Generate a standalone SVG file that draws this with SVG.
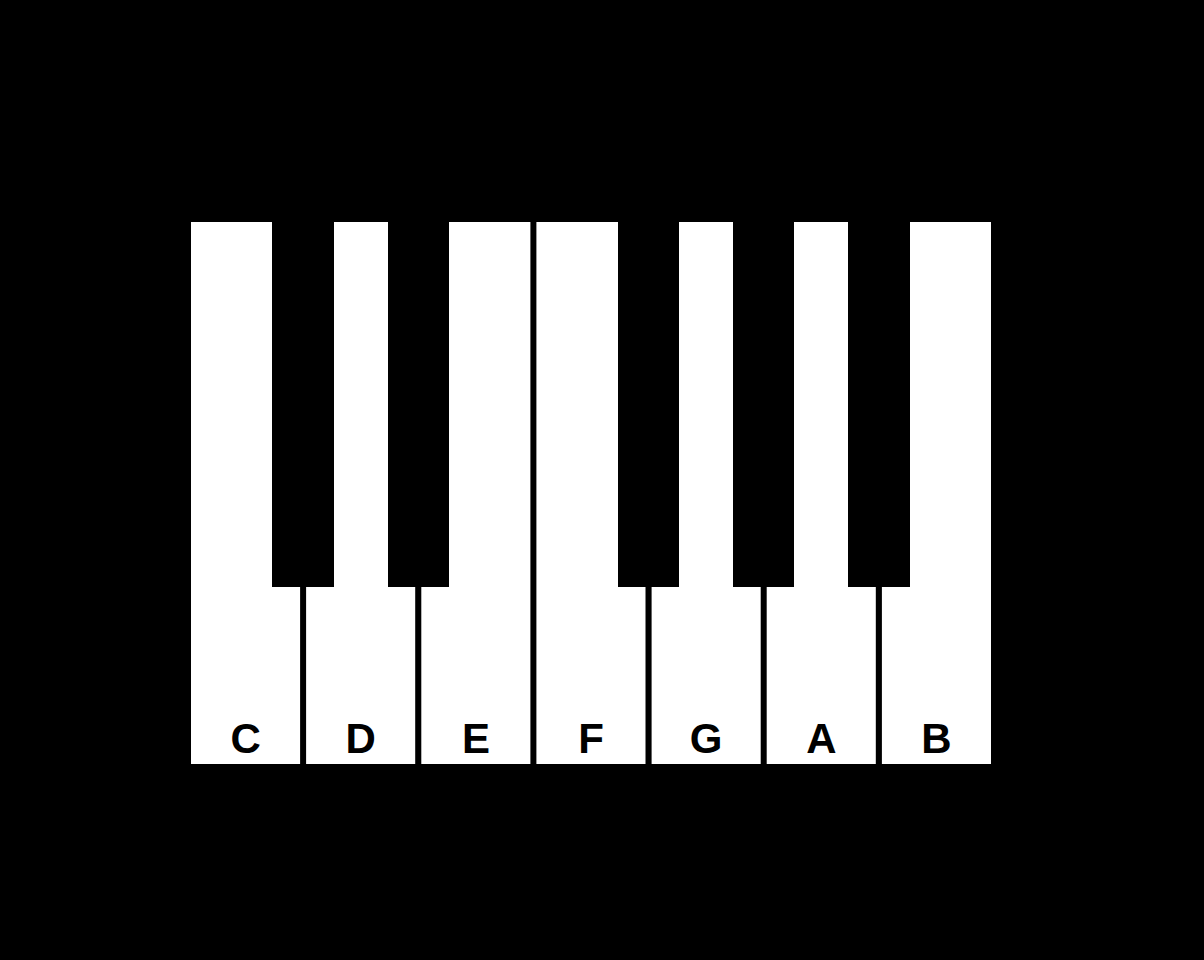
<svg xmlns="http://www.w3.org/2000/svg" width="1204" height="960" viewBox="0 0 1204 960">
<style>
.w{fill:#fff}
.b{fill:#000}
.l{font-family:"Liberation Sans",Arial,sans-serif;font-weight:bold;font-size:42px;fill:#000;text-anchor:middle}
</style>
<rect x="0" y="0" width="1204" height="960" fill="#000"/>
<g id="white-keys">
<g id="key-C"><rect class="w" x="191" y="222" width="109.1" height="542"/><text class="l" x="245.6" y="753">C</text></g>
<g id="key-D"><rect class="w" x="306.1" y="222" width="109.1" height="542"/><text class="l" x="360.7" y="753">D</text></g>
<g id="key-E"><rect class="w" x="421.3" y="222" width="109.1" height="542"/><text class="l" x="475.9" y="753">E</text></g>
<g id="key-F"><rect class="w" x="536.4" y="222" width="109.1" height="542"/><text class="l" x="591" y="753">F</text></g>
<g id="key-G"><rect class="w" x="651.6" y="222" width="109.1" height="542"/><text class="l" x="706.2" y="753">G</text></g>
<g id="key-A"><rect class="w" x="766.7" y="222" width="109.1" height="542"/><text class="l" x="821.3" y="753">A</text></g>
<g id="key-B"><rect class="w" x="881.9" y="222" width="109.1" height="542"/><text class="l" x="936.5" y="753">B</text></g>
</g>
<g id="black-keys">
<g id="key-Csharp"><rect class="b" x="272" y="222" width="62" height="365"/></g>
<g id="key-Dsharp"><rect class="b" x="388" y="222" width="61" height="365"/></g>
<g id="key-Fsharp"><rect class="b" x="618" y="222" width="61" height="365"/></g>
<g id="key-Gsharp"><rect class="b" x="733" y="222" width="61" height="365"/></g>
<g id="key-Asharp"><rect class="b" x="848" y="222" width="62" height="365"/></g>
</g>
<g id="connectors"></g>
</svg>
